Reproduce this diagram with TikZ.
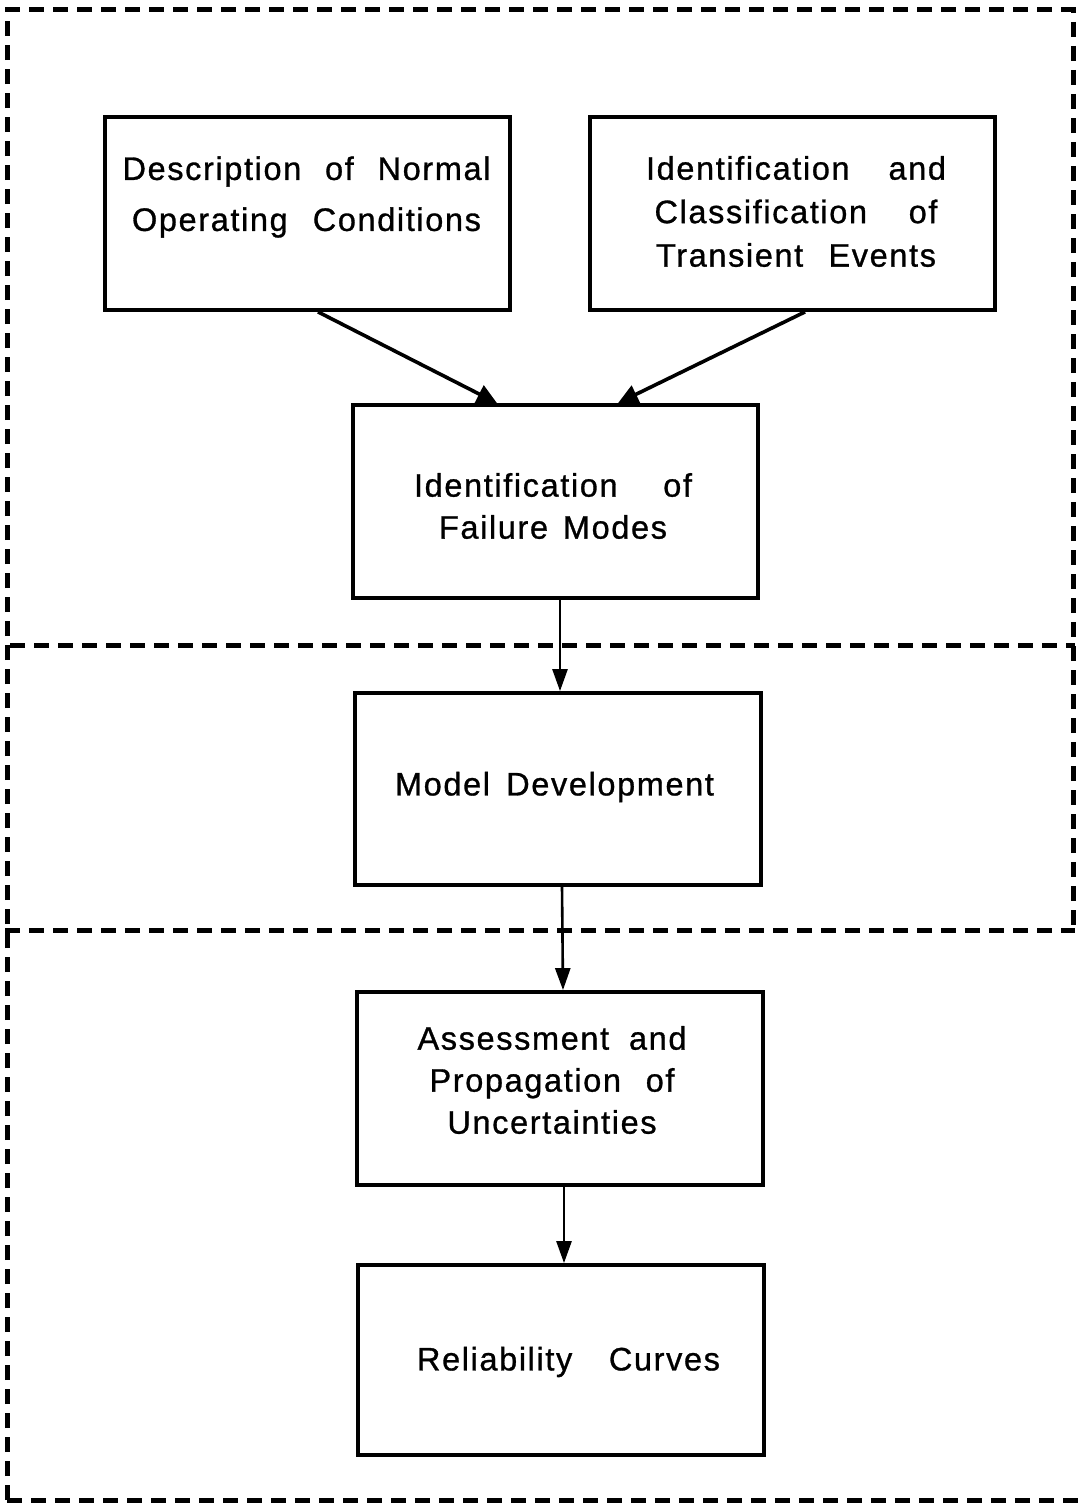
\documentclass[tikz,border=0pt]{standalone}
\usepackage{fontspec}
\setmainfont{Liberation Sans}[LetterSpace=5, FakeBold=0.9]
\usetikzlibrary{arrows.meta}
\newcommand\tline[2]{\makebox[#1pt][s]{#2}}
\begin{document}
\begin{tikzpicture}[x=1pt,y=-1pt,
  box/.style={draw, line width=3.8pt, minimum width=405pt, minimum height=193pt, inner sep=0pt},
  txt/.style={align=center, inner sep=0pt},
  arr/.style={line width=3.6pt, -{Triangle[length=20pt,width=19pt]}},
  varr/.style={line width=2.6pt, -{Triangle[length=22pt,width=15pt]}},
  frame/.style={line width=5pt, dash pattern=on 15pt off 9pt}]
\useasboundingbox (0,0) rectangle (1078,1504);
% dashed frame
\draw[frame] (7,1500) -- (7,10) -- (1073,10) -- (1073,930);
\draw[frame] (7,1500) -- (1078,1500);
\draw[frame] (10,645) -- (1075,645);
\draw[frame] (5,930) -- (1075,930);
% boxes
\node[box] (b1) at (307.5,213.5) {};
\node[box] (b2) at (792.5,213.5) {};
\node[box] (b3) at (555.5,501.5) {};
\node[box, minimum width=406pt, minimum height=192pt] (b4) at (558,789) {};
\node[box, minimum width=406pt] (b5) at (560,1088.5) {};
\node[box, minimum width=406pt, minimum height=190pt] (b6) at (561,1360) {};
% texts
\node[txt, font=\fontsize{32.5}{51}\selectfont] (t1) at (306.5,197)
  {\tline{368}{Description of Normal}\\\tline{349}{Operating Conditions}};
\node[txt, font=\fontsize{32.5}{43.5}\selectfont] (t2) at (796,211.5)
  {\tline{300}{Identification and}\\\tline{283}{Classification of}\\\tline{280}{Transient Events}};
\node[txt, font=\fontsize{32.5}{42}\selectfont] (t3) at (553,506)
  {\tline{278}{Identification of}\\\tline{228}{Failure Modes}};
\node[txt, font=\fontsize{32.5}{42}\selectfont] (t4) at (554.5,787)
  {\tline{319}{Model Development}};
\node[txt, font=\fontsize{32.5}{42}\selectfont] (t5) at (552,1080)
  {\tline{269}{Assessment and}\\\tline{245}{Propagation of}\\Uncertainties};
\node[txt, font=\fontsize{32.5}{42}\selectfont] (t6) at (568.5,1362)
  {\tline{303}{Reliability Curves}};
% connectors
\draw[arr] ([xshift=10.5pt]b1.south) -- ([xshift=-58.5pt]b3.north);
\draw[arr] ([xshift=12.5pt]b2.south) -- ([xshift=62.5pt]b3.north);
\draw[varr] ([xshift=4.5pt]b3.south) -- ([xshift=2pt]b4.north);
\draw[varr] ([xshift=4pt]b4.south) -- ([xshift=3pt]b5.north);
\draw[varr] ([xshift=4pt]b5.south) -- ([xshift=3pt]b6.north);
\end{tikzpicture}
\end{document}
